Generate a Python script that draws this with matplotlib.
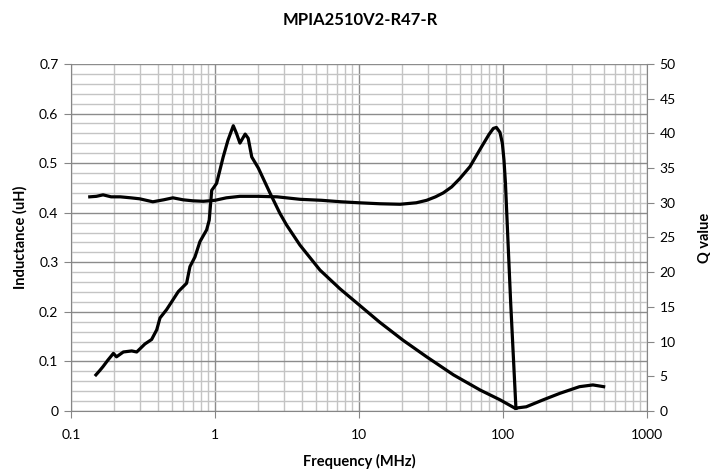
import numpy as np
import matplotlib.pyplot as plt
from matplotlib.ticker import LogLocator, MultipleLocator, FuncFormatter

plt.rcParams['font.family'] = ['Lato', 'DejaVu Sans']

# inductance (uH) vs frequency (MHz)
freq_l = [0.135, 0.15, 0.167, 0.19, 0.22, 0.26, 0.3, 0.37, 0.44, 0.51, 0.6, 0.70, 0.83,
          1.0, 1.2, 1.49, 2.0, 2.7, 3.9, 5.5, 7.5, 10, 14, 19.3, 25, 29.5, 34, 38.5,
          44, 50.2, 59, 71, 80, 85.7, 90, 95.3, 99, 101.6, 104, 106, 113, 123]
induct = [0.432, 0.433, 0.436, 0.432, 0.432, 0.430, 0.428, 0.422, 0.426, 0.430, 0.426,
          0.424, 0.423, 0.425, 0.430, 0.433, 0.433, 0.432, 0.427, 0.425, 0.422, 0.420,
          0.418, 0.417, 0.420, 0.425, 0.432, 0.440, 0.452, 0.469, 0.493, 0.533, 0.558,
          0.570, 0.572, 0.562, 0.540, 0.506, 0.460, 0.405, 0.220, 0.005]

# Q value vs frequency (MHz)
freq_q = [0.149, 0.158, 0.167, 0.18, 0.197, 0.207, 0.231, 0.264, 0.286, 0.326, 0.363,
          0.394, 0.415, 0.461, 0.501, 0.556, 0.635, 0.67, 0.726, 0.786, 0.875, 0.912,
          0.949, 0.98, 1.026, 1.14, 1.23, 1.34, 1.41, 1.49, 1.62, 1.70, 1.80, 2.0, 2.41,
          2.82, 3.14, 3.89, 5.36, 7.38, 10, 13.9, 20.2, 29.5, 45.3, 69.6, 95.5, 121,
          145, 190, 249, 340, 421, 500]
q_val = [5.2, 5.8, 6.4, 7.3, 8.3, 7.8, 8.5, 8.65, 8.5, 9.65, 10.3, 11.7, 13.4, 14.6,
         15.75, 17.2, 18.4, 20.8, 22.2, 24.4, 26.1, 27.5, 31.8, 32.2, 32.8, 36.6, 39.0,
         41.1, 40.0, 38.6, 39.9, 39.3, 36.6, 35.0, 31.4, 28.5, 26.8, 23.9, 20.3, 17.6,
         15.3, 12.8, 10.2, 7.8, 5.2, 3.0, 1.6, 0.4, 0.6, 1.6, 2.55, 3.5, 3.75, 3.5]

fig = plt.figure(figsize=(7.2, 4.74), dpi=100)
ax = fig.add_axes([0.0986, 0.133, 0.8, 0.732])
ax2 = ax.twinx()

ax.plot(freq_l, induct, color='black', lw=2.3, solid_joinstyle='round')
ax2.plot(freq_q, q_val, color='black', lw=2.3, solid_joinstyle='round')

ax.set_xscale('log')
ax.set_xlim(0.1, 1000)
ax.set_ylim(0, 0.7)
ax2.set_ylim(0, 50)

ax.xaxis.set_major_locator(LogLocator(base=10, numticks=10))
ax.xaxis.set_minor_locator(LogLocator(base=10, subs=np.arange(2, 10), numticks=50))
ax.xaxis.set_major_formatter(FuncFormatter(lambda v, p: f'{v:g}'))
ax.yaxis.set_major_locator(MultipleLocator(0.1))
ax.yaxis.set_minor_locator(MultipleLocator(0.02))
ax.yaxis.set_major_formatter(FuncFormatter(lambda v, p: f'{v:g}'))
ax2.yaxis.set_major_locator(MultipleLocator(5))

ax.grid(which='major', color='#8c8c8c', lw=1.0)
ax.grid(which='minor', color='#c4c4c4', lw=1.0)
ax.set_axisbelow(True)

for a in (ax, ax2):
    for s in a.spines.values():
        s.set_color('#868686')
    a.spines['top'].set_visible(False)
ax2.spines['left'].set_visible(False)
ax2.spines['bottom'].set_visible(False)
ax.spines['right'].set_visible(False)

ax.tick_params(which='major', length=5, color='#868686', labelsize=10, pad=4)
ax.tick_params(axis='x', which='major', pad=8)
ax.tick_params(which='minor', length=0)
ax2.tick_params(length=5, color='#868686', labelsize=10, pad=4)

ax.set_xlabel('Frequency (MHz)', fontsize=10.5, fontweight='bold', labelpad=9)
ax.set_ylabel('Inductance (uH)', fontsize=10.5, fontweight='bold', labelpad=8)
ax2.set_ylabel('Q value', fontsize=10.5, fontweight='bold', labelpad=16)
fig.suptitle('MPIA2510V2-R47-R', fontsize=12, fontweight='bold', x=0.5, y=0.975)

fig.savefig('out.png', dpi=100)
